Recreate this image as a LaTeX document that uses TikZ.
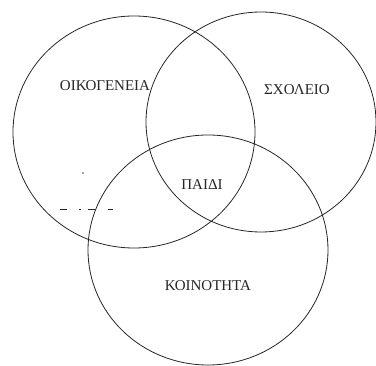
\documentclass[tikz,border=0pt]{standalone}
\usepackage{fontspec}
\setmainfont{Liberation Serif}
\begin{document}
\begin{tikzpicture}[x=1pt,y=-1pt,
  ring/.style={draw=black!85,line width=0.8pt},
  lbl/.style={font=\fontsize{15}{17}\selectfont,text=black!85,inner sep=0pt}]
\useasboundingbox (0,0) rectangle (376,366);
\draw[ring] (134,132) ellipse [x radius=121,y radius=116];
\draw[ring] (261,122) ellipse [x radius=115,y radius=110];
\draw[ring] (208,250) ellipse [x radius=120,y radius=115];
\node[lbl] (fam) at (105,86) {ΟΙΚΟΓΕΝΕΙΑ};
\node[lbl] (sch) at (297,90) {ΣΧΟΛΕΙΟ};
\node[lbl] (child) at (202,185) {ΠΑΙΔΙ};
\node[lbl] (com) at (208,286) {ΚΟΙΝΟΤΗΤΑ};
\coordinate (ds) at (60,209);
\coordinate (de) at (113,209);
\draw[black!85,line width=0.8pt,dash pattern=on 7pt off 12pt on 1.5pt off 7.5pt on 7pt off 13pt on 5pt] (ds) -- (de);
\fill[black!70] (83,173) circle (0.8);
\end{tikzpicture}
\end{document}
